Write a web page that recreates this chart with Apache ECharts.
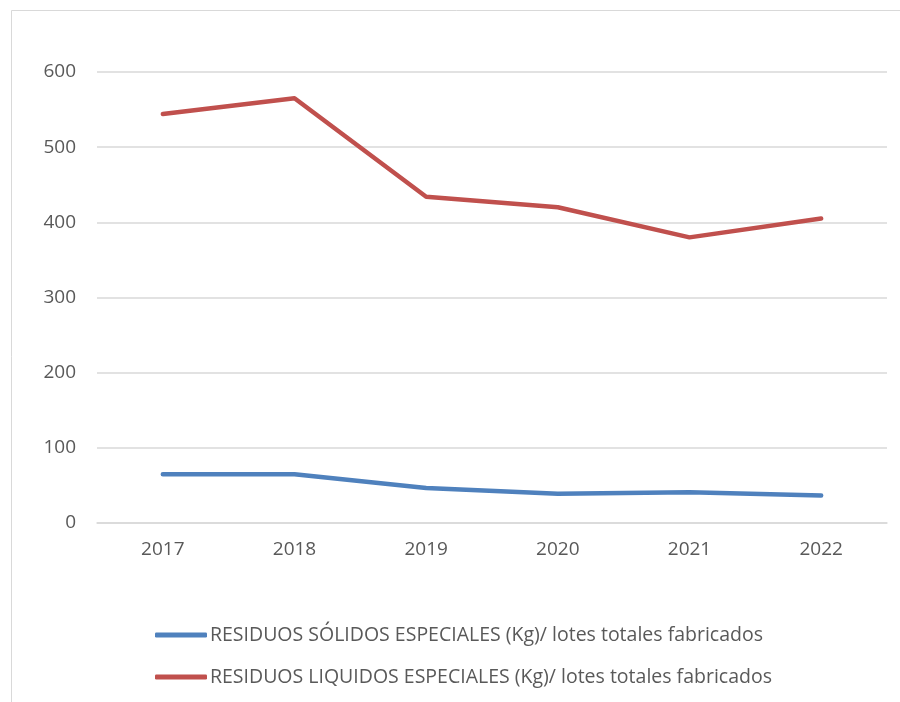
<!DOCTYPE html>
<html>
<head>
<meta charset="utf-8">
<script src="https://cdn.jsdelivr.net/npm/echarts@6/dist/echarts.min.js"></script>
<style>
  html, body { margin: 0; padding: 0; background: #fff; }
  #chart { width: 900px; height: 702px; }
</style>
</head>
<body>
<div id="chart"></div>
<script>
const years = ["2017", "2018", "2019", "2020", "2021", "2022"];
const solidos = [65, 65, 46.5, 39, 41, 36.5];
const liquidos = [544, 565, 434, 420, 380, 405];
const nameSolidos = "RESIDUOS SÓLIDOS ESPECIALES (Kg)/ lotes totales fabricados";
const nameLiquidos = "RESIDUOS LIQUIDOS ESPECIALES (Kg)/ lotes totales fabricados";

const chart = echarts.init(document.getElementById("chart"));
const font = "'Open Sans', sans-serif";

chart.setOption({
  animation: false,
  backgroundColor: "#fff",
  graphic: [{
    type: "rect",
    shape: { x: 11.5, y: 10.5, width: 900, height: 700 },
    style: { fill: "none", stroke: "#d9d9d9", lineWidth: 1 },
    silent: true
  }],
  grid: { left: 97, right: 13, top: 72, bottom: 179, containLabel: false },
  xAxis: {
    type: "category",
    data: years,
    boundaryGap: true,
    axisLine: { lineStyle: { color: "#d9d9d9", width: 1.5 } },
    axisTick: { show: false },
    axisLabel: { color: "#595959", fontSize: 19, fontFamily: font, margin: 17 }
  },
  yAxis: {
    type: "value",
    min: 0,
    max: 600,
    interval: 100,
    axisLine: { show: false },
    axisTick: { show: false },
    axisLabel: { color: "#595959", fontSize: 19, fontFamily: font, margin: 21 },
    splitLine: { lineStyle: { color: "#d9d9d9", width: 1.5 } }
  },
  legend: {
    orient: "vertical",
    left: 155,
    top: 625,
    padding: 0,
    itemGap: 22,
    itemWidth: 52,
    itemHeight: 5,
    icon: "roundRect",
    textStyle: { color: "#595959", fontSize: 19.5, fontFamily: font, padding: [0, 0, 0, -2] },
    data: [nameSolidos, nameLiquidos]
  },
  series: [
    {
      name: nameSolidos,
      type: "line",
      data: solidos,
      symbol: "none",
      lineStyle: { color: "#4f81bd", width: 4.5, cap: "round", join: "round" },
      itemStyle: { color: "#4f81bd" }
    },
    {
      name: nameLiquidos,
      type: "line",
      data: liquidos,
      symbol: "none",
      lineStyle: { color: "#c0504d", width: 4.5, cap: "round", join: "round" },
      itemStyle: { color: "#c0504d" }
    }
  ]
});
</script>
</body>
</html>
